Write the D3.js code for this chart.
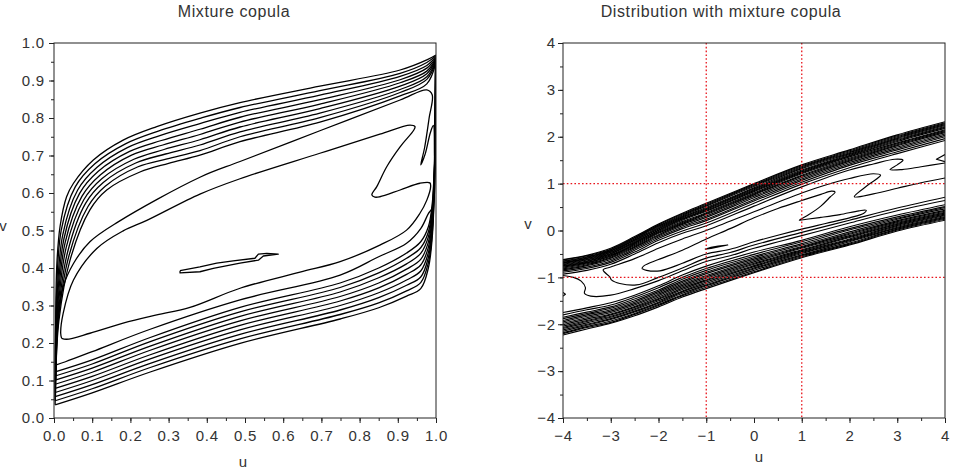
<!DOCTYPE html>
<html>
<head>
<meta charset="utf-8">
<script src="https://cdn.jsdelivr.net/npm/d3@7"></script>
<style>
  body { margin: 0; background: #fff; }
  text { font-family: "Liberation Sans", Arial, sans-serif; }
</style>
</head>
<body>
<script>
// ---- left panel: contour levels of the mixture copula density ----
// upper branches of the outer levels (outermost first), [u, v]
var copulaUpper = [
  [[0.003,0.035],[0.005,0.315],[0.008,0.421],[0.016,0.512],[0.033,0.590],[0.051,0.626],[0.103,0.688],[0.181,0.741],[0.269,0.777],[0.382,0.813],[0.487,0.841],[0.696,0.885],[0.906,0.928],[0.976,0.955],[1.0,0.968]],
  [[0.003,0.046],[0.006,0.308],[0.019,0.501],[0.056,0.617],[0.107,0.678],[0.187,0.731],[0.273,0.765],[0.382,0.799],[0.487,0.828],[0.696,0.873],[0.906,0.919],[0.976,0.948],[1.0,0.966]],
  [[0.004,0.057],[0.007,0.302],[0.023,0.489],[0.062,0.608],[0.112,0.668],[0.192,0.721],[0.277,0.753],[0.382,0.785],[0.487,0.815],[0.696,0.861],[0.906,0.911],[0.976,0.940],[1.0,0.964]],
  [[0.004,0.068],[0.008,0.295],[0.026,0.478],[0.067,0.599],[0.116,0.658],[0.198,0.711],[0.281,0.740],[0.382,0.770],[0.487,0.802],[0.696,0.849],[0.906,0.902],[0.976,0.933],[1.0,0.961]],
  [[0.004,0.079],[0.009,0.288],[0.029,0.467],[0.073,0.591],[0.121,0.648],[0.203,0.701],[0.285,0.728],[0.382,0.756],[0.487,0.789],[0.696,0.837],[0.906,0.894],[0.976,0.925],[1.0,0.959]],
  [[0.004,0.090],[0.010,0.281],[0.032,0.455],[0.078,0.582],[0.125,0.638],[0.209,0.690],[0.288,0.716],[0.382,0.742],[0.487,0.776],[0.696,0.825],[0.906,0.885],[0.976,0.918],[1.0,0.957]],
  [[0.005,0.101],[0.011,0.275],[0.036,0.444],[0.083,0.573],[0.129,0.628],[0.214,0.680],[0.292,0.704],[0.382,0.728],[0.487,0.763],[0.696,0.813],[0.906,0.876],[0.976,0.910],[1.0,0.955]],
  [[0.005,0.112],[0.012,0.268],[0.039,0.432],[0.089,0.564],[0.134,0.618],[0.220,0.670],[0.296,0.691],[0.382,0.713],[0.487,0.750],[0.696,0.801],[0.906,0.868],[0.976,0.903],[1.0,0.952]],
  [[0.005,0.123],[0.013,0.261],[0.042,0.421],[0.094,0.555],[0.138,0.608],[0.225,0.656],[0.300,0.679],[0.382,0.701],[0.487,0.737],[0.696,0.789],[0.906,0.859],[0.976,0.891],[1.0,0.950]]
];
// lower branches of the same levels, v at shared u positions
var copulaLowerU = [0.003,0.1,0.25,0.487,0.749,0.85,0.923,0.96,0.98,0.99,0.996,0.999];
var copulaLowerV = [
  [0.035,0.067,0.122,0.199,0.264,0.294,0.325,0.345,0.400,0.480,0.620,0.940],
  [0.046,0.078,0.134,0.211,0.276,0.307,0.339,0.361,0.414,0.491,0.628,0.940],
  [0.057,0.089,0.145,0.223,0.288,0.321,0.354,0.376,0.428,0.503,0.635,0.940],
  [0.068,0.100,0.157,0.235,0.300,0.334,0.368,0.392,0.441,0.514,0.643,0.940],
  [0.079,0.111,0.168,0.247,0.312,0.347,0.383,0.408,0.455,0.525,0.650,0.940],
  [0.090,0.122,0.180,0.259,0.324,0.360,0.397,0.423,0.469,0.536,0.658,0.940],
  [0.101,0.133,0.191,0.271,0.336,0.374,0.411,0.439,0.483,0.548,0.665,0.940],
  [0.112,0.144,0.203,0.283,0.348,0.387,0.426,0.454,0.496,0.559,0.673,0.940],
  [0.123,0.155,0.214,0.295,0.360,0.400,0.440,0.470,0.510,0.570,0.680,0.940]
];
var copulaLevel10 = [[0.004,0.141],[0.011,0.261],[0.024,0.350],[0.051,0.412],[0.094,0.470],[0.168,0.523],[0.382,0.642],[0.487,0.684],[0.696,0.766],[0.906,0.848],[0.976,0.875],[0.990,0.862],[0.982,0.800],[0.970,0.720],[0.960,0.675],[0.972,0.705],[0.985,0.760],[0.993,0.780],[0.996,0.700],[0.996,0.600],[0.990,0.560],[0.980,0.545],[0.960,0.505],[0.923,0.466],[0.850,0.430],[0.749,0.381],[0.487,0.315],[0.250,0.236],[0.100,0.177],[0.030,0.150],[0.004,0.141]];
var copulaLevel11 = [[0.020,0.2125],[0.0175,0.226],[0.024,0.279],[0.051,0.368],[0.112,0.452],[0.181,0.499],[0.243,0.527],[0.382,0.597],[0.487,0.638],[0.696,0.706],[0.853,0.757],[0.932,0.781],[0.945,0.777],[0.942,0.768],[0.906,0.723],[0.871,0.670],[0.845,0.617],[0.832,0.595],[0.840,0.589],[0.853,0.590],[0.906,0.608],[0.958,0.626],[0.984,0.627],[0.986,0.617],[0.976,0.581],[0.958,0.546],[0.923,0.501],[0.853,0.461],[0.749,0.417],[0.644,0.389],[0.487,0.346],[0.356,0.295],[0.269,0.275],[0.181,0.253],[0.094,0.226],[0.033,0.210],[0.020,0.2125]];
var copulaIsland = [[0.330,0.393],[0.382,0.403],[0.426,0.413],[0.469,0.419],[0.526,0.426],[0.535,0.437],[0.557,0.439],[0.587,0.437],[0.548,0.432],[0.535,0.421],[0.487,0.413],[0.417,0.399],[0.382,0.390],[0.330,0.387],[0.330,0.393]];
var copulaTicks = [0, 0.1, 0.2, 0.3, 0.4, 0.5, 0.6, 0.7, 0.8, 0.9, 1.0];

// ---- right panel: contours of the joint density ----
var distBandA = [-4, -3.5, -3, -2.5, -2, -1.5, -1, 0, 1, 2, 3, 4];
// upper dense band, outermost first
var distUpperV = [
  [-0.62,-0.53,-0.38,-0.13,0.14,0.37,0.58,1.00,1.40,1.72,2.04,2.32],
  [-0.63,-0.54,-0.40,-0.15,0.12,0.35,0.56,0.98,1.38,1.70,2.02,2.30],
  [-0.65,-0.56,-0.41,-0.16,0.10,0.33,0.54,0.96,1.36,1.68,2.00,2.28],
  [-0.66,-0.57,-0.43,-0.18,0.09,0.31,0.52,0.94,1.34,1.66,1.98,2.26],
  [-0.68,-0.59,-0.44,-0.20,0.07,0.29,0.49,0.91,1.32,1.64,1.96,2.24],
  [-0.69,-0.60,-0.46,-0.21,0.05,0.27,0.47,0.89,1.29,1.62,1.94,2.22],
  [-0.70,-0.62,-0.47,-0.23,0.03,0.25,0.45,0.87,1.27,1.60,1.92,2.20],
  [-0.72,-0.63,-0.49,-0.25,0.01,0.24,0.43,0.85,1.25,1.59,1.90,2.18],
  [-0.73,-0.65,-0.50,-0.26,0.00,0.22,0.41,0.83,1.23,1.57,1.87,2.15],
  [-0.75,-0.66,-0.52,-0.28,-0.02,0.19,0.38,0.80,1.21,1.54,1.85,2.13],
  [-0.76,-0.68,-0.54,-0.30,-0.04,0.17,0.36,0.78,1.18,1.52,1.83,2.11],
  [-0.78,-0.69,-0.55,-0.32,-0.06,0.15,0.34,0.76,1.16,1.50,1.81,2.09],
  [-0.80,-0.71,-0.57,-0.34,-0.09,0.13,0.31,0.73,1.13,1.48,1.78,2.06],
  [-0.82,-0.73,-0.59,-0.36,-0.11,0.10,0.28,0.70,1.10,1.45,1.75,2.03],
  [-0.84,-0.75,-0.62,-0.39,-0.14,0.07,0.24,0.66,1.07,1.42,1.72,2.00],
  [-0.86,-0.78,-0.65,-0.42,-0.17,0.04,0.21,0.63,1.03,1.39,1.68,1.96],
  [-0.89,-0.81,-0.68,-0.46,-0.21,-0.01,0.16,0.58,0.99,1.34,1.64,1.92]
];
// innermost upper-band level, folding back near the right edge
var distUpperFold = [[-4,-0.93],[-3.5,-0.85],[-3,-0.72],[-2.5,-0.50],[-2,-0.26],[-1.5,-0.06],[-1,0.10],[0,0.52],[1,0.93],[2,1.29],[2.5,1.42],[2.95,1.52],[3.12,1.50],[3.0,1.40],[2.85,1.30],[3.1,1.30],[3.5,1.36],[4,1.44]];
// lower dense band, outermost first
var distLowerV = [
  [-2.23,-2.10,-1.98,-1.82,-1.63,-1.42,-1.24,-0.90,-0.58,-0.31,-0.01,0.22],
  [-2.20,-2.07,-1.96,-1.79,-1.60,-1.39,-1.21,-0.88,-0.56,-0.29,0.01,0.24],
  [-2.18,-2.05,-1.93,-1.77,-1.58,-1.37,-1.18,-0.85,-0.54,-0.27,0.03,0.26],
  [-2.15,-2.02,-1.90,-1.74,-1.55,-1.34,-1.16,-0.82,-0.52,-0.24,0.05,0.28],
  [-2.12,-2.00,-1.88,-1.72,-1.53,-1.31,-1.13,-0.80,-0.49,-0.22,0.07,0.30],
  [-2.09,-1.97,-1.85,-1.69,-1.50,-1.29,-1.10,-0.77,-0.47,-0.20,0.09,0.32],
  [-2.07,-1.94,-1.83,-1.67,-1.47,-1.26,-1.07,-0.75,-0.45,-0.18,0.11,0.33],
  [-2.04,-1.92,-1.80,-1.64,-1.45,-1.23,-1.05,-0.72,-0.43,-0.15,0.13,0.35],
  [-2.01,-1.89,-1.78,-1.62,-1.42,-1.20,-1.02,-0.70,-0.41,-0.13,0.15,0.37],
  [-1.98,-1.86,-1.75,-1.59,-1.39,-1.17,-0.99,-0.67,-0.38,-0.11,0.17,0.39],
  [-1.95,-1.83,-1.72,-1.56,-1.36,-1.14,-0.96,-0.64,-0.36,-0.08,0.19,0.41],
  [-1.92,-1.80,-1.69,-1.53,-1.33,-1.11,-0.92,-0.61,-0.34,-0.06,0.21,0.43],
  [-1.88,-1.77,-1.66,-1.50,-1.30,-1.08,-0.89,-0.58,-0.31,-0.03,0.24,0.46],
  [-1.85,-1.74,-1.63,-1.46,-1.27,-1.04,-0.85,-0.55,-0.28,0.01,0.26,0.49],
  [-1.80,-1.69,-1.59,-1.42,-1.22,-1.00,-0.81,-0.51,-0.24,0.04,0.29,0.51],
  [-1.75,-1.65,-1.54,-1.38,-1.18,-0.95,-0.76,-0.46,-0.21,0.08,0.33,0.55]
];
var distInner3 = [[-4.0,-0.96],[-3.78,-1.0],[-3.62,-1.08],[-3.53,-1.22],[-3.55,-1.34],[-3.42,-1.40],[-3.0,-1.38],[-2.5,-1.24],[-2.0,-1.07],[-1.5,-0.86],[-1.0,-0.66],[-0.5,-0.54],[0,-0.38],[1,-0.11],[2,0.16],[3,0.42],[4,0.64]];
var distInner2 = [[4,1.12],[3.5,1.02],[3.0,0.90],[2.5,0.78],[2.1,0.72],[2.4,0.98],[2.65,1.18],[2.5,1.21],[2.0,1.11],[1.5,0.97],[1.0,0.80],[0,0.40],[-1.0,0.0],[-1.5,-0.18],[-2.0,-0.38],[-2.5,-0.60],[-3.0,-0.78],[-3.16,-0.84],[-3.02,-0.99],[-2.98,-1.06],[-2.81,-1.13],[-2.46,-1.16],[-2.0,-1.00],[-1.5,-0.80],[-1.0,-0.59],[-0.5,-0.47],[0,-0.31],[1,-0.04],[2,0.22],[3,0.48],[4,0.71]];
var distInner1 = [[-2.35,-0.81],[-2.25,-0.85],[-1.97,-0.86],[-1.5,-0.70],[-1.0,-0.50],[-0.5,-0.40],[0,-0.24],[0.5,-0.10],[1.0,0.03],[1.5,0.15],[2.0,0.27],[2.3,0.37],[2.35,0.43],[2.2,0.42],[1.8,0.34],[1.4,0.28],[1.1,0.24],[0.95,0.22],[1.15,0.34],[1.4,0.52],[1.6,0.72],[1.7,0.82],[1.62,0.84],[1.4,0.77],[1.0,0.64],[0.5,0.47],[0,0.27],[-0.5,0.04],[-1.0,-0.18],[-1.5,-0.42],[-2.0,-0.62],[-2.3,-0.75],[-2.35,-0.81]];
var distIsland = [[-1.03,-0.40],[-0.9,-0.36],[-0.75,-0.33],[-0.55,-0.31],[-0.75,-0.35],[-0.9,-0.38],[-1.03,-0.40]];
var distEdgeMark = [[-4,-1.32],[-3.95,-1.36],[-4,-1.40]];
var distEdgeWedge = [[4,1.62],[3.82,1.52],[4,1.47]];
var distRefLines = [-1, 1];
var distTicks = [-4, -3, -2, -1, 0, 1, 2, 3, 4];

var W = 953, H = 473;
var svg = d3.select("body").append("svg").attr("width", W).attr("height", H);

function makePanel(id, left, domain, lineWidth) {
    var x = d3.scaleLinear().domain(domain).range([left, left + 382]);
    var y = d3.scaleLinear().domain(domain).range([418, 43]);
    svg.append("clipPath").attr("id", id).append("rect")
        .attr("x", left).attr("y", 43).attr("width", 382).attr("height", 375);
    var plot = svg.append("g").attr("clip-path", "url(#" + id + ")");
    return { x: x, y: y, plot: plot, left: left, lw: lineWidth };
}

function contour(p, pts, straight) {
    var line = d3.line()
        .x(function(d) { return p.x(d[0]); })
        .y(function(d) { return p.y(d[1]); })
        .curve(straight ? d3.curveLinear : d3.curveCatmullRom.alpha(0.5));
    p.plot.append("path")
        .attr("d", line(pts))
        .attr("fill", "none")
        .attr("stroke", "#000")
        .attr("stroke-width", p.lw)
        .attr("stroke-linejoin", "round");
}

function axes(p, major, minor, fmt, yPad) {
    function style(sel) {
        sel.select(".domain").remove();
        sel.selectAll("line").attr("stroke", "#222");
        sel.selectAll("text")
            .attr("fill", "#333")
            .attr("font-size", 15)
            .attr("font-family", "Liberation Sans, Arial, sans-serif")
            .style("letter-spacing", "0.8px");
    }
    svg.append("g").attr("transform", "translate(0,418)")
        .call(d3.axisBottom(p.x).tickValues(minor).tickSize(3).tickFormat(""))
        .call(style);
    svg.append("g").attr("transform", "translate(0,418)")
        .call(d3.axisBottom(p.x).tickValues(major).tickSize(5).tickPadding(7).tickFormat(fmt))
        .call(style);
    svg.append("g").attr("transform", "translate(" + p.left + ",0)")
        .call(d3.axisLeft(p.y).tickValues(minor).tickSize(3).tickFormat(""))
        .call(style);
    svg.append("g").attr("transform", "translate(" + p.left + ",0)")
        .call(d3.axisLeft(p.y).tickValues(major).tickSize(5).tickPadding(yPad).tickFormat(fmt))
        .call(style);
    svg.append("rect")
        .attr("x", p.left).attr("y", 43).attr("width", 382).attr("height", 375)
        .attr("fill", "none").attr("stroke", "#222").attr("stroke-width", 1);
}

function label(txt, x, y, size) {
    svg.append("text").text(txt)
        .attr("x", x).attr("y", y)
        .attr("text-anchor", "middle")
        .attr("font-size", size)
        .attr("fill", "#333")
        .style("letter-spacing", size > 15 ? "0.6px" : "0px");
}

// left panel
var pl = makePanel("clipL", 54, [0, 1], 1.3);
copulaUpper.forEach(function(c) { contour(pl, c); });
copulaLowerV.forEach(function(vs) {
    contour(pl, copulaLowerU.map(function(u, i) { return [u, vs[i]]; }));
});
contour(pl, copulaLevel10);
contour(pl, copulaLevel11);
contour(pl, copulaIsland, true);
axes(pl, copulaTicks, d3.range(0, 1.0001, 0.05), d3.format(".1f"), 4);
label("Mixture copula", 234, 16.5, 16);
label("u", 243, 467, 15);
label("v", 3, 231, 15);

// right panel
var pr = makePanel("clipR", 563, [-4, 4], 1.15);
distUpperV.forEach(function(bs) {
    contour(pr, distBandA.map(function(a, i) { return [a, bs[i]]; }));
});
contour(pr, distUpperFold);
distLowerV.forEach(function(bs) {
    contour(pr, distBandA.map(function(a, i) { return [a, bs[i]]; }));
});
contour(pr, distInner3);
contour(pr, distInner2);
contour(pr, distInner1);
contour(pr, distIsland, true);
contour(pr, distEdgeMark, true);
contour(pr, distEdgeWedge, true);

// red dotted reference lines at u = +-1 and v = +-1
var refs = pr.plot.append("g")
    .attr("stroke", "#e8141c").attr("stroke-width", 1.3).attr("stroke-dasharray", "1.6,2.2");
refs.selectAll(".vref").data(distRefLines).enter().append("line")
    .attr("x1", function(d) { return pr.x(d); }).attr("x2", function(d) { return pr.x(d); })
    .attr("y1", pr.y(4)).attr("y2", pr.y(-4));
refs.selectAll(".href").data(distRefLines).enter().append("line")
    .attr("y1", function(d) { return pr.y(d); }).attr("y2", function(d) { return pr.y(d); })
    .attr("x1", pr.x(-4)).attr("x2", pr.x(4));

axes(pr, distTicks, d3.range(-4, 4.0001, 0.5), d3.format("d"), 2);
label("Distribution with mixture copula", 721, 16.5, 16);
label("u", 759, 462, 15);
label("v", 528, 229, 15);
</script>
</body>
</html>
